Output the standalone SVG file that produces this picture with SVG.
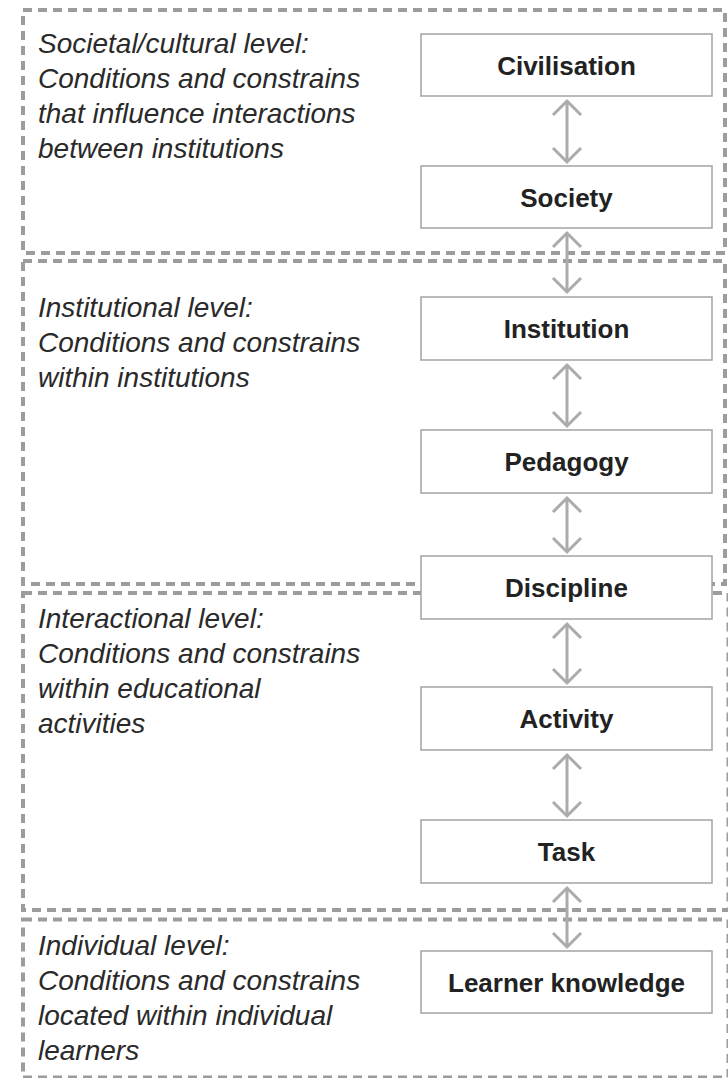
<svg xmlns="http://www.w3.org/2000/svg" width="728" height="1078" viewBox="0 0 728 1078">
<style>
.sec{fill:none;stroke:#9c9c9c;stroke-width:4;stroke-dasharray:9 6}
.box{fill:#fff;stroke:#a3a3a3;stroke-width:1.5}
.lbl{font-family:"Liberation Sans",Arial,sans-serif;font-weight:bold;font-size:26px;fill:#222;text-anchor:middle}
.lvl{font-family:"Liberation Sans",Arial,sans-serif;font-style:italic;font-size:28px;fill:#2a2a2a}
.arr{fill:none;stroke:#ababab;stroke-width:3;marker-start:url(#hd);marker-end:url(#hd)}
</style>
<defs>
<marker id="hd" markerUnits="userSpaceOnUse" markerWidth="22" markerHeight="34" viewBox="0 0 22 34" refX="17" refY="17" orient="auto-start-reverse">
<path d="M3,3 L17,17 L3,31" fill="none" stroke="#ababab" stroke-width="3"/>
</marker>
</defs>
<g id="sections">
<rect class="sec" x="23" y="10" width="702" height="243"/>
<rect class="sec" x="23" y="261" width="702" height="323"/>
<rect class="sec" x="23" y="593" width="705.5" height="317"/>
<rect class="sec" x="23" y="919.5" width="705.5" height="158"/>
</g>
<g id="level-texts">
<text class="lvl" x="38" y="53">Societal/cultural level:</text>
<text class="lvl" x="38" y="88">Conditions and constrains</text>
<text class="lvl" x="38" y="123">that influence interactions</text>
<text class="lvl" x="38" y="158">between institutions</text>
<text class="lvl" x="38" y="317">Institutional level:</text>
<text class="lvl" x="38" y="352">Conditions and constrains</text>
<text class="lvl" x="38" y="387">within institutions</text>
<text class="lvl" x="38" y="628">Interactional level:</text>
<text class="lvl" x="38" y="663">Conditions and constrains</text>
<text class="lvl" x="38" y="698">within educational</text>
<text class="lvl" x="38" y="733">activities</text>
<text class="lvl" x="38" y="955">Individual level:</text>
<text class="lvl" x="38" y="990">Conditions and constrains</text>
<text class="lvl" x="38" y="1025">located within individual</text>
<text class="lvl" x="38" y="1060">learners</text>
</g>
<g id="connectors">
<line class="arr" x1="567" y1="101" x2="567" y2="162"/>
<line class="arr" x1="567" y1="233" x2="567" y2="292"/>
<line class="arr" x1="567" y1="365" x2="567" y2="426"/>
<line class="arr" x1="567" y1="498" x2="567" y2="552"/>
<line class="arr" x1="567" y1="624" x2="567" y2="683"/>
<line class="arr" x1="567" y1="755" x2="567" y2="816"/>
<line class="arr" x1="567" y1="888" x2="567" y2="947"/>
</g>
<g id="n-civilisation"><rect class="box" x="421" y="34" width="291" height="62"/><text class="lbl" x="566.5" y="75">Civilisation</text></g>
<g id="n-society"><rect class="box" x="421" y="166" width="291" height="62"/><text class="lbl" x="566.5" y="207">Society</text></g>
<g id="n-institution"><rect class="box" x="421" y="297" width="291" height="63"/><text class="lbl" x="566.5" y="338">Institution</text></g>
<g id="n-pedagogy"><rect class="box" x="421" y="430" width="291" height="63"/><text class="lbl" x="566.5" y="471">Pedagogy</text></g>
<g id="n-discipline"><rect class="box" x="421" y="556" width="291" height="63"/><text class="lbl" x="566.5" y="597">Discipline</text></g>
<g id="n-activity"><rect class="box" x="421" y="687" width="291" height="63"/><text class="lbl" x="566.5" y="728">Activity</text></g>
<g id="n-task"><rect class="box" x="421" y="820" width="291" height="63"/><text class="lbl" x="566.5" y="861">Task</text></g>
<g id="n-learner"><rect class="box" x="421" y="951" width="291" height="62"/><text class="lbl" x="566.5" y="992">Learner knowledge</text></g>
</svg>
